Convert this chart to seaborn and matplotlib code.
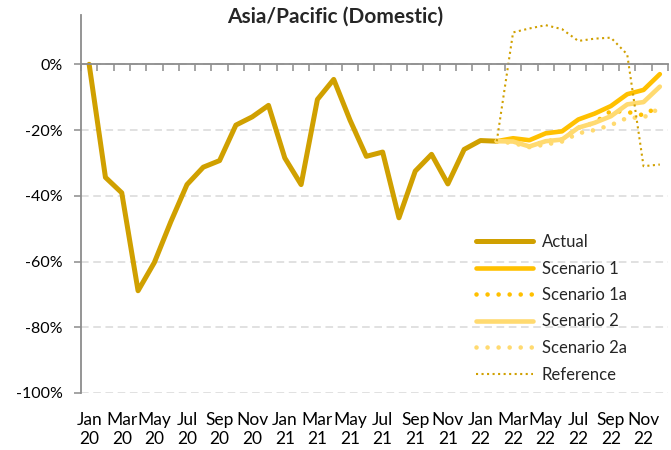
import matplotlib
matplotlib.use("Agg")
import matplotlib.pyplot as plt
import numpy as np
import pandas as pd
import seaborn as sns
from matplotlib.ticker import FixedLocator, FuncFormatter

# Monthly change vs. 2019 (%), Jan 2020 .. Dec 2022
tick_labels = ["Jan\n20", "Mar\n20", "May\n20", "Jul\n20", "Sep\n20", "Nov\n20",
               "Jan\n21", "Mar\n21", "May\n21", "Jul\n21", "Sep\n21", "Nov\n21",
               "Jan\n22", "Mar\n22", "May\n22", "Jul\n22", "Sep\n22", "Nov\n22"]
n_months = 36

actual = [0, -34.4, -39.1, -68.9, -60.3, -48.0, -36.6, -31.3, -29.3, -18.5,
          -16.0, -12.5, -28.5, -36.6, -10.7, -4.6, -17.0, -28.0, -26.7, -46.7,
          -32.5, -27.4, -36.4, -25.9, -23.2, -23.4]
# Forecasts start at Feb 22
scenario_1 = [-23.4, -22.5, -23.1, -21.0, -20.4, -16.8, -15.0, -12.7, -9.1, -7.8, -3.0]
scenario_1a = [-23.4, -23.5, -25.0, -23.4, -22.9, -19.3, -17.8, -14.2, -14.5, -15.5, -12.5]
scenario_2 = [-23.4, -23.5, -25.0, -23.4, -22.9, -19.3, -17.8, -15.8, -12.2, -11.5, -6.8]
scenario_2a = [-23.4, -24.0, -25.2, -24.4, -23.5, -21.0, -20.0, -18.5, -16.3, -16.2, -13.3]
reference = [-23.4, 9.7, 10.9, 11.9, 10.7, 7.1, 7.8, 8.1, 3.0, -31.0, -30.5]

forecast_start = len(actual) - 1

sns.set_theme(style="white")
plt.rcParams["font.family"] = ["Lato", "DejaVu Sans"]

GOLD = "#D0A000"
AMBER = "#FFC000"
PALE = "#FFDA70"
GRAY = "#8C8C8C"

fig = plt.figure(figsize=(6.71, 4.5), dpi=100)
ax = fig.add_axes([0.1207, 0.1267, 0.8748, 0.84])


def frame(values, start):
    return pd.DataFrame({"month": np.arange(start, start + len(values)), "value": values})


dot = (0, (0.01, 2.4))
sns.lineplot(data=frame(actual, 0), x="month", y="value", ax=ax, color=GOLD,
             lw=3.6, solid_capstyle="round", label="Actual")
sns.lineplot(data=frame(scenario_1, forecast_start), x="month", y="value", ax=ax,
             color=AMBER, lw=3.3, solid_capstyle="round", label="Scenario 1")
sns.lineplot(data=frame(scenario_1a, forecast_start), x="month", y="value", ax=ax,
             color=AMBER, lw=3.3, ls=dot, dash_capstyle="round", label="Scenario 1a")
sns.lineplot(data=frame(scenario_2, forecast_start), x="month", y="value", ax=ax,
             color=PALE, lw=3.3, solid_capstyle="round", label="Scenario 2")
sns.lineplot(data=frame(scenario_2a, forecast_start), x="month", y="value", ax=ax,
             color=PALE, lw=3.3, ls=dot, dash_capstyle="round", label="Scenario 2a")
sns.lineplot(data=frame(reference, forecast_start), x="month", y="value", ax=ax,
             color=GOLD, lw=1.5, ls=":", label="Reference")

ax.set_xlim(-0.5, n_months - 0.5)
ax.set_ylim(-100, 15)
ax.set_xlabel("")
ax.set_ylabel("")

# y axis
ax.yaxis.set_major_locator(FixedLocator([0, -20, -40, -60, -80, -100]))
ax.yaxis.set_major_formatter(FuncFormatter(lambda v, _: f"{v:.0f}%"))
ax.tick_params(axis="y", which="major", left=True, direction="out", length=5,
               width=1.1, color=GRAY, pad=8, labelsize=11.5, labelcolor="#000000")
ax.grid(axis="y", color="#D9D9D9", lw=1.1, ls=(0, (5, 3)))
ax.grid(axis="x", visible=False)

# x axis: the category line sits at 0%, labels below the plot
ax.xaxis.set_major_locator(FixedLocator(np.arange(0, n_months, 2)))
ax.set_xticklabels(tick_labels)
ax.xaxis.set_minor_locator(FixedLocator(np.arange(-0.5, n_months, 1)))
ax.tick_params(axis="x", which="major", bottom=True, top=False, length=0, pad=14,
               labelsize=12.5, labelcolor="#000000", labelbottom=True)
ax.tick_params(axis="x", which="minor", bottom=False, top=True, direction="in",
               length=5, width=1.1, color=GRAY)
for lab in ax.get_xticklabels():
    lab.set_linespacing(1.2)

ax.spines["top"].set_position(("data", 0))
ax.spines["top"].set_color(GRAY)
ax.spines["top"].set_linewidth(1.3)
ax.spines["left"].set_color(GRAY)
ax.spines["left"].set_linewidth(1.3)
ax.spines["bottom"].set_visible(False)
ax.spines["right"].set_visible(False)

ax.legend(loc="upper left", bbox_to_anchor=(476 / 671, 1 - 234 / 450),
          bbox_transform=fig.transFigure, frameon=False, fontsize=12,
          handlelength=3.4, handletextpad=0.54, labelspacing=0.63,
          borderpad=0, borderaxespad=0)

fig.text(0.5, 1 - 17 / 450, "Asia/Pacific (Domestic)", ha="center", va="center",
         fontsize=15, fontweight="bold")

fig.savefig("out.png", dpi=100)
